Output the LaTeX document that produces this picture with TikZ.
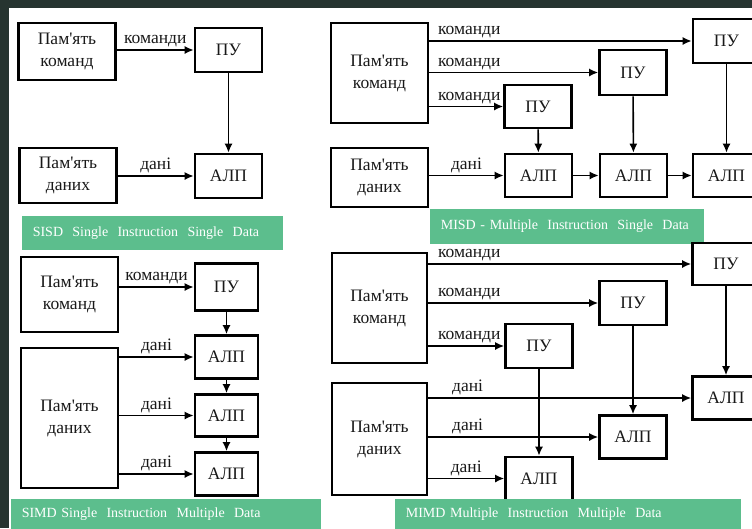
\documentclass[tikz,border=0pt]{standalone}
\usepackage{fontspec}
\setmainfont{Liberation Serif}
\newfontfamily\boxfont{Liberation Serif}
\usetikzlibrary{arrows.meta}

\definecolor{slidebg}{RGB}{38,52,48}
\definecolor{bannergreen}{RGB}{92,190,141}
\definecolor{inkgray}{RGB}{25,25,25}

\tikzset{
    unit/.style={draw=black, line width=2.6pt, fill=white, text=inkgray, inner sep=0pt,
        minimum width=67pt, minimum height=44pt, align=center,
        font=\boxfont\fontsize{17.5}{22}\selectfont},
    memory/.style={unit, minimum width=97pt},
    banner/.style={fill=bannergreen, text=white, anchor=north west, inner xsep=11pt,
        inner ysep=0pt, align=left, font=\boxfont\fontsize{14}{17}\selectfont},
    lbl/.style={text=inkgray, inner sep=2pt, font=\boxfont\fontsize{17.5}{20}\selectfont},
}

\begin{document}
\begin{tikzpicture}[x=1pt, y=-1pt, >={Latex[length=9pt,width=8pt]}, line width=1.6pt]
    % Frame
    \clip (0,0) rectangle (752,528);
    \fill[slidebg] (0,0) rectangle (752,528);
    \fill[white] (9,8) rectangle (752,528);

    % SISD
    \node[memory, minimum height=57pt] (mk1) at (67,51.5) {Пам'ять\\команд};
    \node[unit] (pu1) at (228.5,50) {ПУ};
    \node[memory, minimum height=55pt] (md1) at (68,175.5) {Пам'ять\\даних};
    \node[unit] (alu1) at (228.5,176) {АЛП};
    \draw[->] (mk1.east |- pu1.west) -- node[lbl, above] (k1) {команди} (pu1.west);
    \draw[->] (md1.east |- alu1.west) -- node[lbl, above] (d1) {дані} (alu1.west);
    \draw[->] (pu1) -- (alu1);
    \node[banner, minimum height=34pt, text width=239pt] (sisd) at (21,215)
        {\mbox{SISD\ \ Single\ \ Instruction\ \ Single\ \ Data}};

    % MISD
    \node[memory, minimum height=100pt] (mk2) at (379.5,73) {Пам'ять\\команд};
    \node[memory, minimum height=59pt] (md2) at (379.5,177.5) {Пам'ять\\даних};
    \node[unit, minimum height=43pt] (pu2a) at (538,106.5) {ПУ};
    \node[unit, minimum height=45pt] (pu2b) at (633,72.5) {ПУ};
    \node[unit] (pu2c) at (726.5,41) {ПУ};
    \node[unit, minimum height=43pt] (alu2a) at (538.5,175.5) {АЛП};
    \node[unit, minimum height=43pt] (alu2b) at (633.5,175.5) {АЛП};
    \node[unit, minimum height=43pt] (alu2c) at (726.5,175.5) {АЛП};
    \draw[->] (mk2.east |- pu2c.west) -- node[lbl, above right, pos=0, xshift=6pt] (k2c) {команди} (pu2c.west);
    \draw[->] (mk2.east |- pu2b.west) -- node[lbl, above right, pos=0, xshift=6pt] (k2b) {команди} (pu2b.west);
    \draw[->] (mk2.east |- pu2a.west) -- node[lbl, above right, pos=0, xshift=6pt] (k2a) {команди} (pu2a.west);
    \draw[->] (md2.east |- alu2a.west) -- node[lbl, above] (d2) {дані} (alu2a.west);
    \draw[->] (alu2a) -- (alu2b);
    \draw[->] (alu2b) -- (alu2c);
    \draw[->] (pu2a) -- (alu2a);
    \draw[->] (pu2b) -- (alu2b);
    \draw[->] (pu2c) -- (alu2c);
    \node[banner, minimum height=35pt, text width=252pt] (misd) at (429,208)
        {\mbox{MISD - Multiple\ \ Instruction\ \ Single\ \ Data}};

    % SIMD
    \node[memory, minimum height=75pt] (mk3) at (69.5,294.5) {Пам'ять\\команд};
    \node[unit, minimum width=63pt, minimum height=47pt] (pu3) at (226.5,287) {ПУ};
    \node[memory, minimum height=140pt] (md3) at (69.5,418) {Пам'ять\\даних};
    \node[unit, minimum width=63pt, minimum height=43pt] (alu3a) at (226.5,357) {АЛП};
    \node[unit, minimum width=63pt, minimum height=42pt] (alu3b) at (226.5,415.5) {АЛП};
    \node[unit, minimum width=63pt, minimum height=43pt] (alu3c) at (226.5,474) {АЛП};
    \draw[->] (mk3.east |- pu3.west) -- node[lbl, above] (k3) {команди} (pu3.west);
    \draw[->] (md3.east |- alu3a.west) -- node[lbl, above] (d3a) {дані} (alu3a.west);
    \draw[->] (md3.east |- alu3b.west) -- node[lbl, above] (d3b) {дані} (alu3b.west);
    \draw[->] (md3.east |- alu3c.west) -- node[lbl, above] (d3c) {дані} (alu3c.west);
    \draw[->] (pu3) -- (alu3a);
    \draw[->] (alu3a) -- (alu3b);
    \draw[->] (alu3b) -- (alu3c);
    \node[banner, minimum height=30pt, text width=288pt] (simd) at (10,498)
        {\mbox{SIMD Single\ \ Instruction\ \ Multiple\ \ Data}};

    % MIMD
    \node[memory, minimum width=95pt, minimum height=110pt] (mk4) at (379.5,308) {Пам'ять\\команд};
    \node[memory, minimum width=95pt, minimum height=112pt] (md4) at (379.5,439) {Пам'ять\\даних};
    \node[unit] (pu4a) at (539,346) {ПУ};
    \node[unit] (pu4b) at (633,303) {ПУ};
    \node[unit, minimum height=42pt] (pu4c) at (726,264) {ПУ};
    \node[unit, minimum height=43pt] (alu4c) at (726,398) {АЛП};
    \node[unit, minimum height=43pt] (alu4b) at (633,437) {АЛП};
    \node[unit, minimum height=43pt] (alu4a) at (539,478.5) {АЛП};
    \draw[->] (mk4.east |- pu4c.west) -- node[lbl, above right, pos=0, xshift=7pt] (k4c) {команди} (pu4c.west);
    \draw[->] (mk4.east |- pu4b.west) -- node[lbl, above right, pos=0, xshift=7pt] (k4b) {команди} (pu4b.west);
    \draw[->] (mk4.east |- pu4a.west) -- node[lbl, above right, pos=0, xshift=7pt] (k4a) {команди} (pu4a.west);
    \draw[->] (md4.east |- alu4c.west) -- node[lbl, above right, pos=0, xshift=21pt] (d4c) {дані} (alu4c.west);
    \draw[->] (md4.east |- alu4b.west) -- node[lbl, above right, pos=0, xshift=21pt] (d4b) {дані} (alu4b.west);
    \draw[->] (md4.east |- alu4a.west) -- node[lbl, above] (d4a) {дані} (alu4a.west);
    \draw[->] (pu4a) -- (alu4a);
    \draw[->] (pu4b) -- (alu4b);
    \draw[->] (pu4c) -- (alu4c);
    \node[banner, minimum height=30pt, text width=324pt] (mimd) at (394,498)
        {\mbox{MIMD Multiple\ \ Instruction\ \ Multiple\ \ Data}};
\end{tikzpicture}
\end{document}
